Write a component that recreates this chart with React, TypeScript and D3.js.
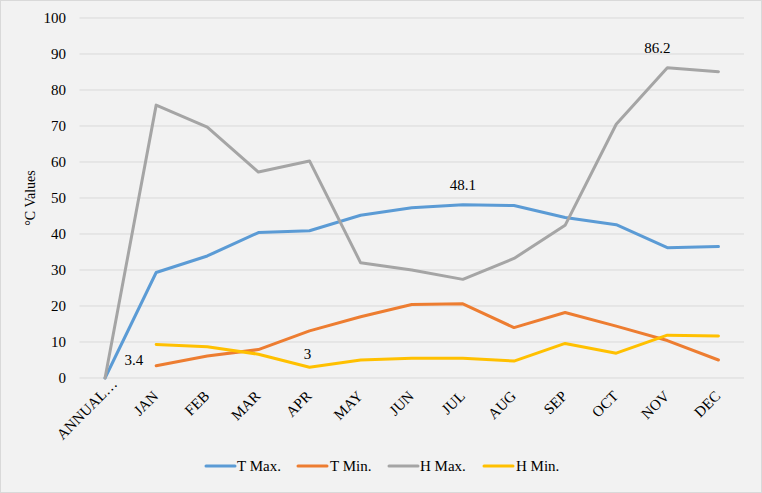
import React from "react";
import * as d3 from "d3";

const categories = ["ANNUAL…", "JAN", "FEB", "MAR", "APR", "MAY", "JUN", "JUL", "AUG", "SEP", "OCT", "NOV", "DEC"];
const tMax: (number | null)[] = [0, 29.3, 33.9, 40.4, 40.9, 45.2, 47.3, 48.1, 47.9, 44.6, 42.6, 36.2, 36.5];
const tMin: (number | null)[] = [null, 3.4, 6.1, 7.9, 13.1, 17.0, 20.4, 20.6, 14.0, 18.2, 14.4, 10.4, 5.0];
const hMax: (number | null)[] = [0, 75.8, 69.7, 57.2, 60.3, 32.0, 30.0, 27.4, 33.2, 42.4, 70.5, 86.2, 85.1];
const hMin: (number | null)[] = [null, 9.3, 8.7, 6.6, 3.0, 5.0, 5.5, 5.5, 4.7, 9.6, 6.9, 11.9, 11.7];
const yTicks = [0, 10, 20, 30, 40, 50, 60, 70, 80, 90, 100];

const series = [
  { name: "T Max.", values: tMax, color: "#5B9BD5" },
  { name: "T Min.", values: tMin, color: "#ED7D31" },
  { name: "H Max.", values: hMax, color: "#A5A5A5" },
  { name: "H Min.", values: hMin, color: "#FFC000" },
];

// labelled points: series index, category index
const labels = [
  { s: 1, i: 1 },
  { s: 3, i: 4 },
  { s: 0, i: 7 },
  { s: 2, i: 11 },
];
// label offsets (styling only)
const labelOffsets = [
  { dx: -13, dy: -1, anchor: "end" },
  { dx: -2, dy: -8, anchor: "middle" },
  { dx: 0, dy: -15, anchor: "middle" },
  { dx: -10, dy: -15, anchor: "middle" },
];

export default function App() {
  const W = 762, H = 493;
  const left = 79.5, right = 744;
  const x = d3.scaleBand<string>().domain(categories).range([left, right]);
  const cx = (c: string) => (x(c) as number) + x.bandwidth() / 2;
  const y = d3.scaleLinear().domain([0, 100]).range([378, 18]);
  const font = '"Liberation Serif", "Times New Roman", "DejaVu Serif", serif';

  const line = d3
    .line<number | null>()
    .defined((d) => d !== null)
    .x((_, i) => cx(categories[i]))
    .y((d) => y(d as number));

  const legendItems = [
    { x: 206, tx: 237 },
    { x: 298, tx: 330 },
    { x: 389, tx: 420 },
    { x: 484, tx: 516 },
  ];

  return (
    <svg width={W} height={H} style={{ position: "absolute", left: 0, top: 0, fontFamily: font }}>
      <rect x={0.5} y={0.5} width={W - 1} height={H - 1} fill="#F2F2F2" stroke="#D9D9D9" />
      {yTicks.map((t) => (
        <g key={t}>
          <line x1={left} x2={right} y1={y(t)} y2={y(t)} stroke="#D9D9D9" strokeWidth={1} />
          <text x={66} y={y(t)} dy="0.35em" textAnchor="end" fontSize={15} fill="#000">
            {t}
          </text>
        </g>
      ))}
      <text
        transform={`translate(35, ${198}) rotate(-90)`}
        textAnchor="middle"
        fontSize={14}
        fill="#000"
      >
        °C Values
      </text>
      {categories.map((c, i) => (
        <text
          key={c}
          transform={`translate(${cx(c) + (i === 0 ? 13 : 3)}, ${i === 0 ? 385 : 397}) rotate(-45)`}
          textAnchor="end"
          fontSize={15}
          fill="#000"
        >
          {c}
        </text>
      ))}
      {series.map((s) => (
        <path
          key={s.name}
          d={line(s.values) || ""}
          fill="none"
          stroke={s.color}
          strokeWidth={3}
          strokeLinejoin="round"
          strokeLinecap="round"
        />
      ))}
      {labels.map((l, k) => {
        const v = series[l.s].values[l.i] as number;
        const px = cx(categories[l.i]);
        const py = y(v);
        const o = labelOffsets[k];
        return (
          <text key={k} x={px + o.dx} y={py + o.dy} textAnchor={o.anchor} fontSize={15} fill="#000">
            {v}
          </text>
        );
      })}
      {series.map((s, i) => (
        <g key={s.name}>
          <line
            x1={legendItems[i].x}
            x2={legendItems[i].x + 29}
            y1={466}
            y2={466}
            stroke={s.color}
            strokeWidth={3}
            strokeLinecap="round"
          />
          <text x={legendItems[i].tx} y={466} dy="0.35em" fontSize={15} fill="#000">
            {s.name}
          </text>
        </g>
      ))}
    </svg>
  );
}
